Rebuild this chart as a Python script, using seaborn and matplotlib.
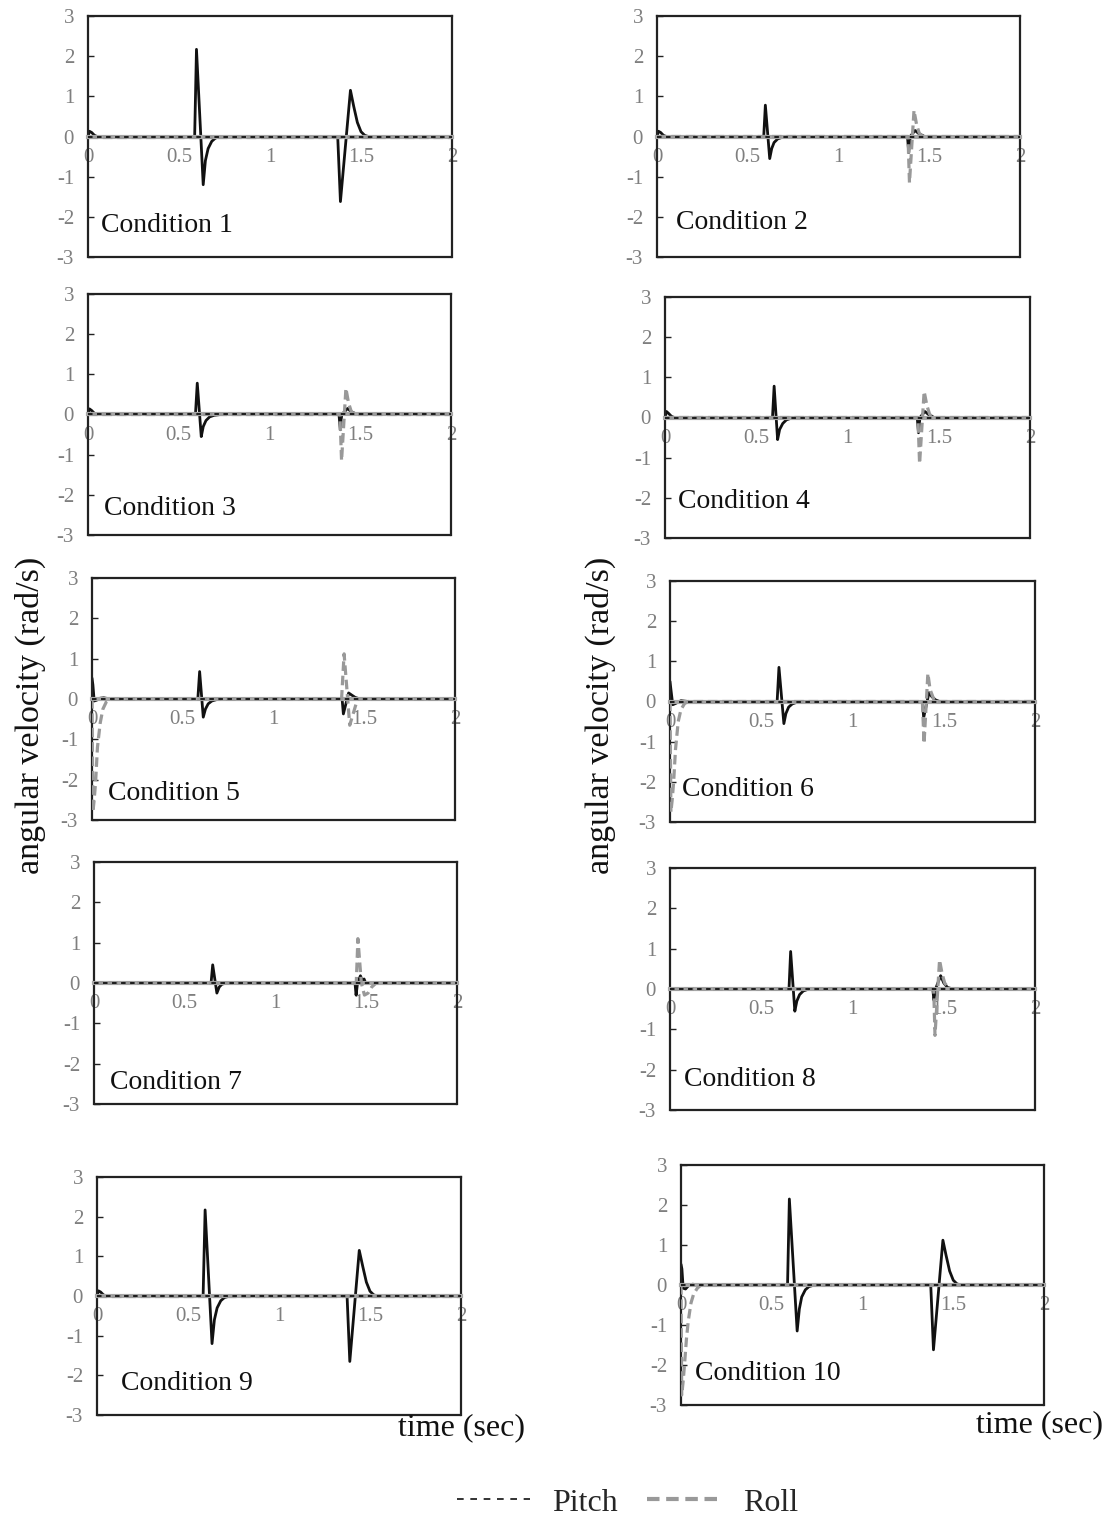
import matplotlib
matplotlib.use("Agg")
import matplotlib.pyplot as plt
import seaborn as sns
from matplotlib.lines import Line2D

# ---- data ----
conditions = ["Condition 1", "Condition 2", "Condition 3", "Condition 4", "Condition 5",
              "Condition 6", "Condition 7", "Condition 8", "Condition 9", "Condition 10"]

# flat pitch trace (dashed black along zero)
pitch_t = [0.0, 2.0]
pitch_v = [0.0, 0.0]

# solid black trace, per condition
c1_t = [0, 0.008, 0.02, 0.035, 0.05, 0.586, 0.596, 0.633, 0.645, 0.66, 0.68, 0.70, 0.73,
        1.372, 1.387, 1.442, 1.46, 1.48, 1.50, 1.52, 1.54, 2.0]
c1_v = [0, 0.13, 0.10, 0.03, 0, 0, 2.17, -1.2, -0.6, -0.3, -0.12, -0.04, 0,
        0, -1.62, 1.15, 0.75, 0.35, 0.12, 0.03, 0, 0]
c2_t = [0, 0.008, 0.02, 0.035, 0.05, 0.588, 0.597, 0.621, 0.632, 0.645, 0.665, 0.69, 0.727,
        1.38, 1.387, 1.395, 1.422, 1.44, 1.474, 2.0]
c2_v = [0, 0.13, 0.1, 0.03, 0, 0, 0.78, -0.55, -0.3, -0.15, -0.06, -0.02, 0,
        0, -0.4, 0, 0.15, 0.08, 0, 0]
c3_t = [0, 0.008, 0.02, 0.035, 0.05, 0.592, 0.602, 0.624, 0.635, 0.65, 0.67, 0.695, 0.73,
        1.383, 1.39, 1.398, 1.43, 1.45, 1.485, 2.0]
c3_v = [0, 0.14, 0.1, 0.03, 0, 0, 0.78, -0.55, -0.3, -0.15, -0.06, -0.02, 0,
        0, -0.38, 0, 0.15, 0.07, 0, 0]
c4_t = [0, 0.008, 0.02, 0.035, 0.05, 0.589, 0.598, 0.617, 0.628, 0.645, 0.665, 0.69, 0.725,
        1.382, 1.389, 1.397, 1.424, 1.445, 1.475, 2.0]
c4_v = [0, 0.15, 0.1, 0.03, 0, 0, 0.78, -0.55, -0.3, -0.15, -0.06, -0.02, 0,
        0, -0.38, 0, 0.15, 0.07, 0, 0]
c5_t = [0, 0.005, 0.012, 0.025, 0.045, 0.065, 0.1, 0.583, 0.593, 0.613, 0.625, 0.64, 0.66,
        0.69, 0.72, 1.378, 1.385, 1.414, 1.43, 1.45, 1.47, 1.49, 2.0]
c5_v = [0.52, 0.35, -0.05, -0.03, 0.02, 0.03, 0, 0, 0.68, -0.45, -0.25, -0.12, -0.05,
        -0.01, 0, 0, -0.37, 0.15, 0.1, 0.04, 0.01, 0, 0]
c6_t = [0, 0.005, 0.015, 0.03, 0.06, 0.1, 0.587, 0.597, 0.624, 0.635, 0.65, 0.67, 0.695,
        0.725, 1.383, 1.39, 1.419, 1.435, 1.455, 1.477, 2.0]
c6_v = [0.5, 0.3, -0.08, -0.05, 0.02, 0, 0, 0.85, -0.55, -0.3, -0.14, -0.06, -0.02,
        0, 0, -0.4, 0.22, 0.12, 0.04, 0, 0]
c7_t = [0, 0.645, 0.654, 0.677, 0.69, 0.705, 0.73, 1.438, 1.444, 1.452, 1.468, 1.478,
        1.488, 1.495, 1.51, 2.0]
c7_v = [0, 0, 0.45, -0.25, -0.1, -0.03, 0, 0, -0.3, 0, 0.18, 0.05, 0.1, 0.02, 0, 0]
c8_t = [0, 0.652, 0.661, 0.684, 0.695, 0.71, 0.73, 0.755, 0.78, 1.44, 1.446, 1.455, 1.483,
        1.5, 1.52, 1.55, 2.0]
c8_v = [0, 0, 0.93, -0.55, -0.3, -0.14, -0.05, -0.01, 0, 0, -0.28, 0, 0.33, 0.15, 0.04, 0, 0]
c9_t = [0, 0.008, 0.02, 0.035, 0.05, 0.583, 0.594, 0.632, 0.645, 0.66, 0.68, 0.70, 0.73,
        1.374, 1.389, 1.441, 1.46, 1.48, 1.50, 1.52, 1.54, 2.0]
c9_v = [0, 0.13, 0.1, 0.03, 0, 0, 2.17, -1.2, -0.6, -0.3, -0.12, -0.04, 0,
        0, -1.65, 1.15, 0.75, 0.35, 0.12, 0.03, 0, 0]
c10_t = [0, 0.005, 0.012, 0.025, 0.045, 0.065, 0.09, 0.587, 0.597, 0.64, 0.652, 0.665,
         0.685, 0.705, 0.735, 1.376, 1.391, 1.443, 1.46, 1.48, 1.50, 1.52, 1.54, 2.0]
c10_v = [0.52, 0.4, -0.08, -0.1, 0.0, 0.02, 0, 0, 2.15, -1.15, -0.6, -0.3,
         -0.12, -0.04, 0, 0, -1.62, 1.12, 0.75, 0.35, 0.12, 0.03, 0, 0]

# roll trace (gray dashed), per condition
r1_t = [0, 2.0]
r1_v = [0, 0]
r2_t = [0, 1.383, 1.391, 1.416, 1.43, 1.445, 1.465, 2.0]
r2_v = [0, 0, -1.15, 0.65, 0.3, 0.08, 0, 0]
r3_t = [0, 1.388, 1.397, 1.421, 1.435, 1.45, 1.47, 2.0]
r3_v = [0, 0, -1.15, 0.65, 0.3, 0.08, 0, 0]
r4_t = [0, 1.386, 1.395, 1.42, 1.435, 1.45, 1.47, 2.0]
r4_v = [0, 0, -1.15, 0.65, 0.3, 0.08, 0, 0]
r5_t = [0, 0.005, 0.012, 0.02, 0.03, 0.045, 0.06, 0.08, 0.1, 1.375, 1.389, 1.42, 1.44,
        1.463, 2.0]
r5_v = [0, -2.8, -2.5, -2.05, -1.2, -0.6, -0.25, -0.06, 0, 0, 1.12, -0.65, -0.35, 0, 0]
r6_t = [0, 0.005, 0.012, 0.02, 0.03, 0.045, 0.06, 0.08, 0.1, 1.383, 1.392, 1.413, 1.425,
        1.45, 2.0]
r6_v = [0, -2.75, -2.45, -2.0, -1.2, -0.5, -0.2, -0.05, 0, 0, -1.05, 0.7, 0.3, 0, 0]
r7_t = [0, 1.445, 1.454, 1.473, 1.49, 1.51, 1.53, 1.555, 2.0]
r7_v = [0, 0, 1.1, 0, -0.3, -0.25, -0.1, 0, 0]
r8_t = [0, 1.445, 1.452, 1.477, 1.49, 1.505, 1.53, 2.0]
r8_v = [0, 0, -1.15, 0.72, 0.4, 0.15, 0, 0]
r9_t = [0, 2.0]
r9_v = [0, 0]
r10_t = [0, 0.004, 0.012, 0.02, 0.03, 0.04, 0.055, 0.07, 0.09, 0.11, 2.0]
r10_v = [0, -2.75, -2.4, -1.95, -1.35, -0.9, -0.45, -0.22, -0.08, 0, 0]

xticks = [0, 0.5, 1, 1.5, 2]
xtick_labels = ["0", "0.5", "1", "1.5", "2"]
yticks = [-3, -2, -1, 0, 1, 2, 3]
ytick_labels = ["-3", "-2", "-1", "0", "1", "2", "3"]

black_t = [c1_t, c2_t, c3_t, c4_t, c5_t, c6_t, c7_t, c8_t, c9_t, c10_t]
black_v = [c1_v, c2_v, c3_v, c4_v, c5_v, c6_v, c7_v, c8_v, c9_v, c10_v]
roll_t = [r1_t, r2_t, r3_t, r4_t, r5_t, r6_t, r7_t, r8_t, r9_t, r10_t]
roll_v = [r1_v, r2_v, r3_v, r4_v, r5_v, r6_v, r7_v, r8_v, r9_v, r10_v]

# ---- layout (pixel boxes: left, top, right, bottom) ----
W, H = 1110, 1522
boxes = [(88, 16, 452, 257), (657, 16, 1020, 257),
         (88, 294, 451, 535), (665, 297, 1030, 538),
         (92, 578, 455, 820), (670, 581, 1035, 822),
         (94, 862, 457, 1104), (670, 868, 1035, 1110),
         (97, 1177, 461, 1415), (681, 1165, 1044, 1405)]
label_pos = [(0.035, 0.13), (0.052, 0.145), (0.044, 0.108), (0.036, 0.15), (0.044, 0.11),
             (0.033, 0.133), (0.044, 0.087), (0.038, 0.128), (0.066, 0.134), (0.039, 0.133)]

sns.set_theme(style="white")
plt.rcParams["font.family"] = ["Liberation Serif", "DejaVu Serif"]
plt.rcParams["axes.unicode_minus"] = False

GRAY_TXT = "#7f7f7f"
ROLL_C = "#999999"

fig = plt.figure(figsize=(W / 100, H / 100), dpi=100)

for i in range(10):
    l, t, r, b = boxes[i]
    ax = fig.add_axes([l / W, 1 - b / H, (r - l) / W, (b - t) / H])

    # solid trace under the gray zero axis, dashed traces on top
    sns.lineplot(x=black_t[i], y=black_v[i], ax=ax, color="#111111", lw=2.0,
                 estimator=None, sort=False, zorder=2)
    sns.lineplot(x=roll_t[i], y=roll_v[i], ax=ax, color=ROLL_C, lw=2.3,
                 linestyle=(0, (3, 1.5)), estimator=None, sort=False, zorder=3)
    sns.lineplot(x=pitch_t, y=pitch_v, ax=ax, color="#111111", lw=1.3,
                 linestyle=(0, (2.5, 2.5)), estimator=None, sort=False, zorder=5)

    ax.set_xlim(0, 2)
    ax.set_ylim(-3, 3)
    ax.set_xlabel("")
    ax.set_ylabel("")

    for side in ["top", "left", "right"]:
        ax.spines[side].set_color("#222222")
        ax.spines[side].set_linewidth(1.6)
    ax.spines["bottom"].set_position(("data", 0))
    ax.spines["bottom"].set_color("#a6a6a6")
    ax.spines["bottom"].set_linewidth(3.0)
    ax.spines["bottom"].set_zorder(2.8)
    # bottom edge of the box
    ax.plot([0, 1], [0, 0], transform=ax.transAxes, color="#222222", lw=1.6,
            clip_on=False, zorder=6)

    ax.set_xticks(xticks)
    ax.set_xticklabels(xtick_labels)
    ax.set_yticks(yticks)
    ax.set_yticklabels(ytick_labels)
    ax.tick_params(axis="x", direction="in", length=5, width=1, color="#222222",
                   labelsize=15, labelcolor=GRAY_TXT, pad=8)
    ax.tick_params(axis="y", direction="in", length=4, width=1, color="#222222",
                   labelsize=15, labelcolor=GRAY_TXT, pad=10, left=True)
    for lab in ax.get_xticklabels():
        lab.set_bbox(dict(facecolor="white", edgecolor="none", pad=0.5))

    lx, ly = label_pos[i]
    ax.text(lx, ly, conditions[i], transform=ax.transAxes, fontsize=20,
            ha="left", va="center", color="#111111")

# axis titles
for x in (30, 600):
    fig.text(x / W, 1 - 715 / H, "angular velocity (rad/s)", rotation=90,
             ha="center", va="center", fontsize=24.5, color="#111111")
fig.text(462 / W, 1 - 1428 / H, "time (sec)", ha="center", va="center",
         fontsize=23, color="#111111")
fig.text(1040 / W, 1 - 1425 / H, "time (sec)", ha="center", va="center",
         fontsize=23, color="#111111")

handles = [Line2D([], [], color="#111111", lw=1.2, linestyle=(0, (4, 4))),
           Line2D([], [], color=ROLL_C, lw=3, linestyle=(0, (3, 1.6)))]
fig.legend(handles, ["Pitch", "Roll"], loc="center",
           bbox_to_anchor=(0.565, 1 - 1503 / H), ncol=2, frameon=False,
           fontsize=23, handlelength=2.3, handletextpad=0.7, columnspacing=0.9)

fig.savefig("out.png", dpi=100)
